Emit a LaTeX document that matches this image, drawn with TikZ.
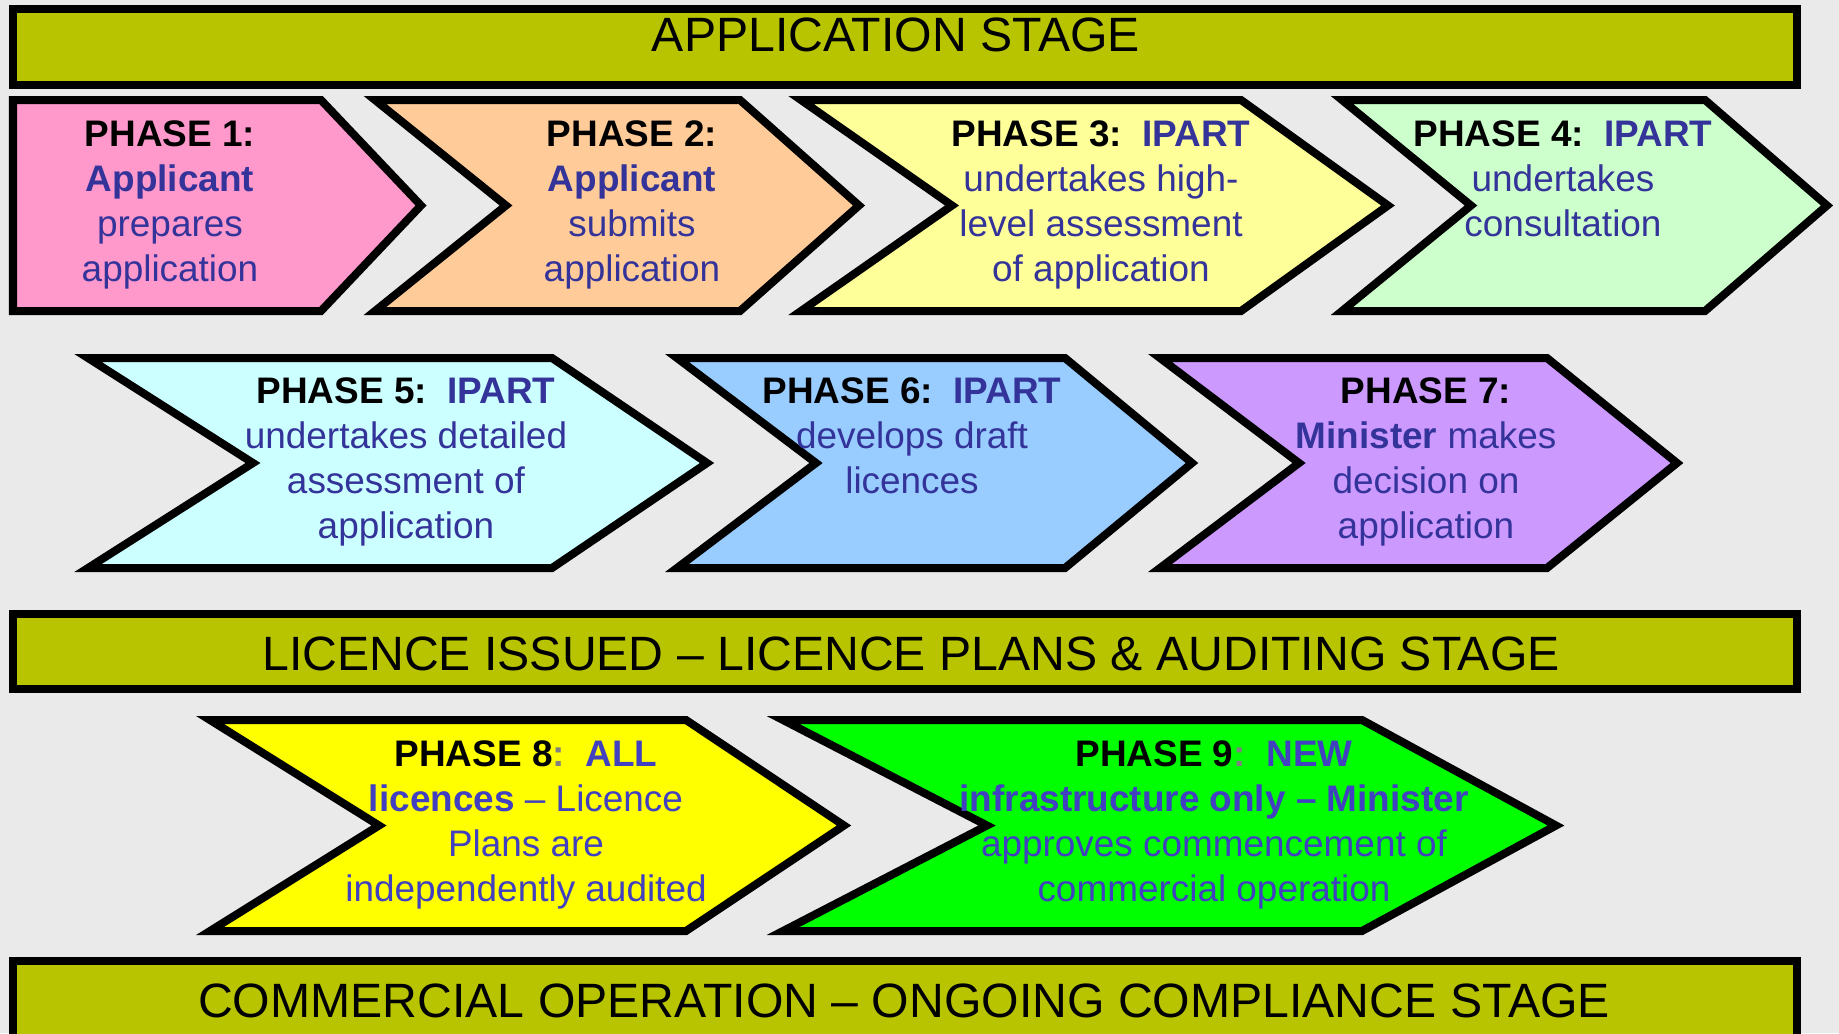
\documentclass[tikz,border=0pt]{standalone}
\usepackage{fontspec}
\setmainfont{Liberation Sans}
\usetikzlibrary{positioning}
\definecolor{bggray}{HTML}{EAEAEA}
\definecolor{stageolive}{HTML}{B9C400}
\definecolor{ptblue}{HTML}{333399}
\definecolor{ptbright}{HTML}{4040C0}
\definecolor{colongray}{HTML}{808080}
\definecolor{phaseone}{HTML}{FF99CC}
\definecolor{phasetwo}{HTML}{FFCC99}
\definecolor{phasethree}{HTML}{FFFF99}
\definecolor{phasefour}{HTML}{CCFFCC}
\definecolor{phasefive}{HTML}{CCFFFF}
\definecolor{phasesix}{HTML}{99CCFF}
\definecolor{phaseseven}{HTML}{CC99FF}
\definecolor{phaseeight}{HTML}{FFFF00}
\definecolor{phasenine}{HTML}{00FF00}

\begin{document}
\begin{tikzpicture}[x=0.01cm,y=-0.01cm,
  stagebar/.style={draw=black,line width=0.08cm,fill=stageolive},
  chevron/.style={draw=black,line width=0.08cm,line join=miter},
  stagetext/.style={font=\fontsize{13.7pt}{16pt}\selectfont,anchor=north,inner sep=0pt},
  phasetext/.style={font=\fontsize{10.5pt}{12.76pt}\selectfont,anchor=north,inner sep=0pt,align=center,text=ptblue}]
\path[use as bounding box,fill=bggray] (0,0) rectangle (1839,1033);
\clip (0,0) rectangle (1839,1033);

% stage bars
\draw[stagebar] (13,9) rectangle (1797,85);
\node[stagetext] (stage1) at (896,17) {APPLICATION STAGE};
\draw[stagebar] (13,614) rectangle (1797,689);
\node[stagetext] (stage2) at (911,636) {LICENCE ISSUED – LICENCE PLANS \& AUDITING STAGE};
\draw[stagebar] (13,961) rectangle (1797,1060);
\node[stagetext] (stage3) at (904,983) {COMMERCIAL OPERATION – ONGOING COMPLIANCE STAGE};

% row 1
\draw[chevron,fill=phaseone] (13,100) -- (321,100) -- (421,205.5) -- (321,311) -- (13,311) -- cycle;
\draw[chevron,fill=phasetwo] (375,100) -- (740,100) -- (859,205.5) -- (740,311) -- (375,311) -- (506,205.5) -- cycle;
\draw[chevron,fill=phasethree] (801,100) -- (1241,100) -- (1388,205.5) -- (1241,311) -- (801,311) -- (952,205.5) -- cycle;
\draw[chevron,fill=phasefour] (1342,100) -- (1705,100) -- (1827,205.5) -- (1705,311) -- (1342,311) -- (1471,205.5) -- cycle;

\node[phasetext] (phase1) at (170,120) {\textcolor{black}{\textbf{PHASE 1:}}\\\textbf{Applicant}\\prepares\\application};
\node[phasetext] (phase2) at (632,120) {\textcolor{black}{\textbf{PHASE 2:}}\\\textbf{Applicant}\\submits\\application};
\node[phasetext] (phase3) at (1101,120) {\textcolor{black}{\textbf{PHASE 3:}}\ \ \textbf{IPART}\\undertakes high-\\level assessment\\of application};
\node[phasetext] (phase4) at (1563,120) {\textcolor{black}{\textbf{PHASE 4:}}\ \ \textbf{IPART}\\undertakes\\consultation};

% row 2
\draw[chevron,fill=phasefive] (88,358) -- (552,358) -- (707,463) -- (552,568) -- (88,568) -- (253,463) -- cycle;
\draw[chevron,fill=phasesix] (677,358) -- (1065,358) -- (1192,463) -- (1065,568) -- (677,568) -- (816,463) -- cycle;
\draw[chevron,fill=phaseseven] (1160,358) -- (1547,358) -- (1677,463) -- (1547,568) -- (1160,568) -- (1299,463) -- cycle;

\node[phasetext] (phase5) at (406,377) {\textcolor{black}{\textbf{PHASE 5:}}\ \ \textbf{IPART}\\undertakes detailed\\assessment of\\application};
\node[phasetext] (phase6) at (912,377) {\textcolor{black}{\textbf{PHASE 6:}}\ \ \textbf{IPART}\\develops draft\\licences};
\node[phasetext] (phase7) at (1426,377) {\textcolor{black}{\textbf{PHASE 7:}}\\\textbf{Minister} makes\\decision on\\application};

% row 3
\draw[chevron,fill=phaseeight] (210,720) -- (686,720) -- (844,825.5) -- (686,931) -- (210,931) -- (379,825.5) -- cycle;
\draw[chevron,fill=phasenine] (783,720) -- (1362,720) -- (1556,825.5) -- (1362,931) -- (783,931) -- (987,825.5) -- cycle;

\node[phasetext,text=ptbright] (phase8) at (526,740) {\textcolor{black}{\textbf{PHASE 8}}\textcolor{colongray}{\textbf{:}}\ \ \textbf{ALL}\\\textbf{licences} – Licence\\Plans are\\independently audited};
\node[phasetext,text=ptbright] (phase9) at (1214,740) {\textcolor{black}{\textbf{PHASE 9}}\textcolor{colongray}{\textbf{:}}\ \ \textbf{NEW}\\\textbf{infrastructure only – Minister}\\approves commencement of\\commercial operation};

\end{tikzpicture}
\end{document}
